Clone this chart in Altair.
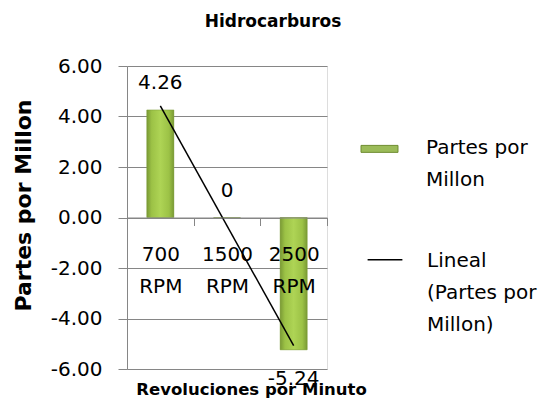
import altair as alt
import pandas as pd

categories = ["700 RPM", "1500 RPM", "2500 RPM"]
values = [4.26, 0, -5.24]
positions = [1, 2, 3]
bar_series = "Partes por|Millon"
trend_series = "Lineal|(Partes por|Millon)"
y_ticks = [-6, -4, -2, 0, 2, 4, 6]

df = pd.DataFrame({"cat": categories, "value": values, "idx": positions})

FONT = "DejaVu Sans"
GRID = "#868686"
green_grad = alt.LinearGradient(
    gradient="linear", x1=0, x2=1, y1=0, y2=0,
    stops=[
        alt.GradientStop(offset=0, color="#7A9A35"),
        alt.GradientStop(offset=0.18, color="#9CC246"),
        alt.GradientStop(offset=0.5, color="#AED455"),
        alt.GradientStop(offset=0.82, color="#9CC246"),
        alt.GradientStop(offset=1, color="#7A9A35"),
    ],
)

x_band = alt.X(
    "cat:N", sort=categories, title="Revoluciones por Minuto",
    scale=alt.Scale(paddingInner=0, paddingOuter=0),
    axis=alt.Axis(
        offset=-151.5, labelAngle=0, labelFont=FONT, labelFontSize=20, labelColor="#000",
        labelExpr="split(datum.label, ' ')", labelLineHeight=32, labelPadding=19,
        tickBand="extent", tickSize=8, tickColor=GRID, domainColor=GRID, zindex=1,
        titleFont=FONT, titleFontSize=16.5, titleFontWeight="bold", titleColor="#000",
        titleX=124, titleY=172, titleBaseline="middle", titleAlign="center",
    ),
)
y_val = alt.Y(
    "value:Q", title="Partes por Millon",
    scale=alt.Scale(domain=[-6, 6], nice=False),
    axis=alt.Axis(
        values=y_ticks, labelExpr="replace(format(datum.value, '.2f'), '\u2212', '-')",
        labelFont=FONT, labelFontSize=20, labelColor="#000", labelPadding=16,
        tickSize=9, tickColor=GRID, domainColor=GRID, gridColor=GRID,
        titleFont=FONT, titleFontSize=22, titleFontWeight="bold", titleColor="#000",
        titleX=-104, titleY=139, titleAngle=-90, titleBaseline="middle",
    ),
)

base = alt.Chart(df)

bars_legend = base.transform_calculate(series=f"'{bar_series}'").mark_bar(size=27).encode(
    x=x_band, y=y_val,
    fill=alt.Fill("series:N", scale=alt.Scale(range=["#9BBB59"]), legend=alt.Legend(
        title=None, orient="none", legendX=236, legendY=55,
        symbolType="M-1.17,0.5H1.17V0.94H-1.17Z",
        symbolSize=1000, symbolStrokeColor="#6E8C30", symbolStrokeWidth=1,
        labelFont=FONT, labelFontSize=20, labelColor="#000", labelOffset=30,
        labelExpr="split(datum.label, '|')", labelBaseline="top",
    )),
)
bars = base.mark_bar(size=27, fill=green_grad, stroke="#7A9A35", strokeWidth=0.5).encode(
    x=alt.X("cat:N", sort=categories), y="value:Q"
)

lab_pos = base.transform_filter("datum.value >= 0").transform_calculate(
    txt="toString(datum.value)"
).mark_text(font=FONT, fontSize=20, color="#000", dy=-27, baseline="middle").encode(
    x=alt.X("cat:N", sort=categories), y="value:Q", text="txt:N"
)
lab_neg = base.transform_filter("datum.value < 0").transform_calculate(
    txt="toString(datum.value)"
).mark_text(font=FONT, fontSize=20, color="#000", dy=29, baseline="middle").encode(
    x=alt.X("cat:N", sort=categories), y="value:Q", text="txt:N"
)

band_layer = alt.layer(bars_legend, bars, lab_pos, lab_neg)

trend = base.transform_regression("idx", "value", extent=[1, 3]).transform_calculate(
    series=f"'{trend_series}'"
).mark_line(strokeWidth=1.5).encode(
    x=alt.X("idx:Q", scale=alt.Scale(domain=[0.5, 3.5], nice=False, zero=False), axis=None),
    y="value:Q",
    stroke=alt.Stroke("series:N", scale=alt.Scale(range=["#000000"]), legend=alt.Legend(
        title=None, orient="none", legendX=241, legendY=168,
        symbolType="M-1.1,0.55L1.1,0.55",
        symbolSize=1000, symbolStrokeWidth=1.5,
        labelFont=FONT, labelFontSize=20, labelColor="#000", labelOffset=25,
        labelExpr="split(datum.label, '|')", labelBaseline="top",
    )),
)

chart = alt.layer(band_layer, trend).resolve_scale(
    x="independent"
).properties(
    width=200, height=303,
    title=alt.TitleParams("Hidrocarburos", font=FONT, fontSize=17, fontWeight="bold",
                          color="#000", anchor="middle", dx=46, offset=25),
    autosize=alt.AutoSizeParams(type="none"),
    padding={"left": 119, "top": 58, "right": 223, "bottom": 36},
).configure_view(stroke=None).configure_axis(grid=False).configure_axisY(grid=True).configure(
    style={"guide-label": {"lineHeight": 32}}
)

chart.save("out.html", embed_options={"renderer": "svg", "actions": False})
